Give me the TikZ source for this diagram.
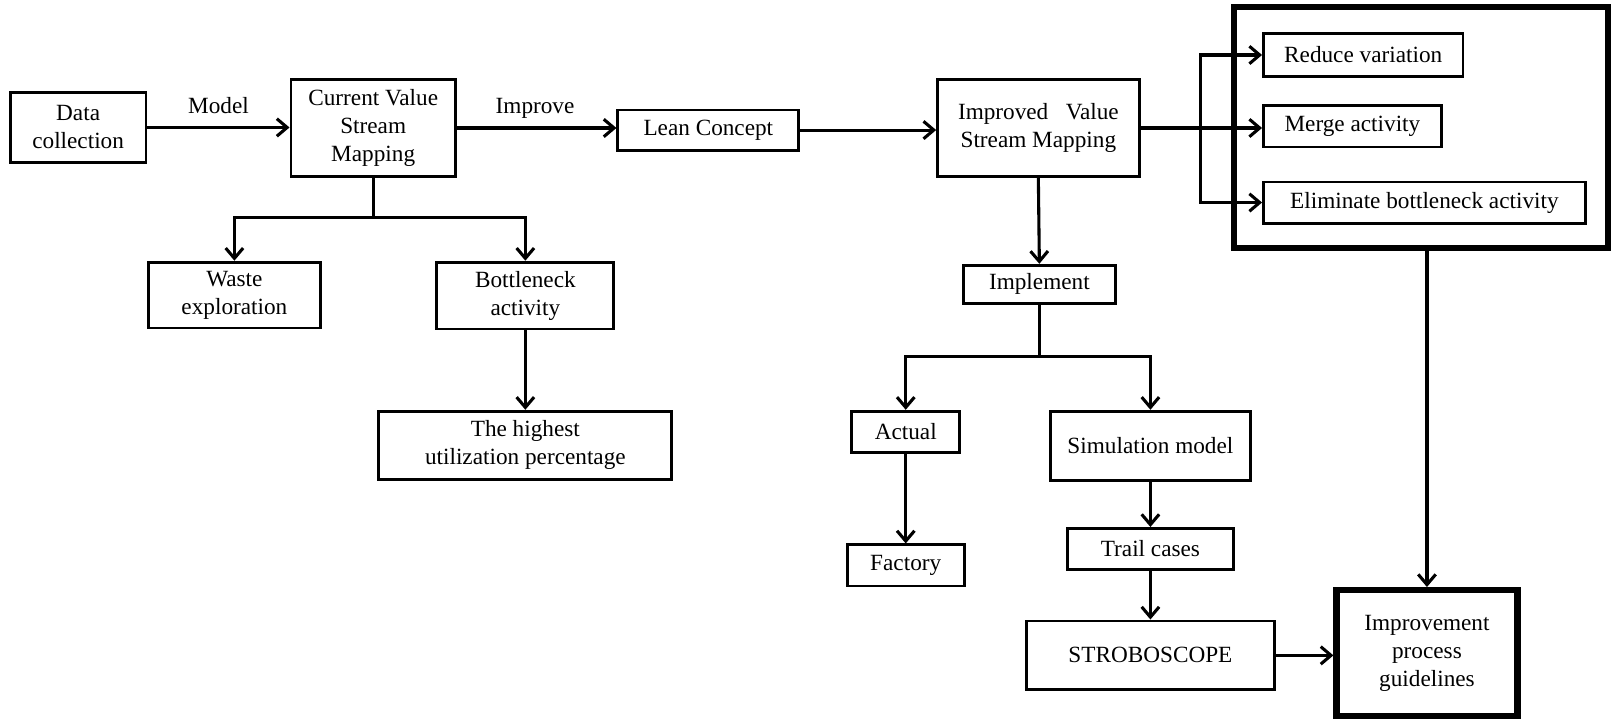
\documentclass[tikz,border=0pt]{standalone}
\usepackage{fontspec}
\setmainfont{Liberation Serif}
\usetikzlibrary{arrows.meta}
\begin{document}
\begin{tikzpicture}[x=0.5pt,y=-0.5pt,
  every node/.style={font=\fontsize{11.3}{13.6}\selectfont, align=center, inner sep=0pt},
  box/.style={draw, line width=1.4pt, rectangle},
  heavybox/.style={draw, line width=3pt, rectangle},
  conn/.style={line width=1.5pt, line cap=rect},
  arr/.style={conn, -{Straight Barb[length=5pt,width=8.5pt,line width=1.5pt]}},
  lbl/.style={anchor=base, yshift=7pt}]
\useasboundingbox (0,0) rectangle (1568,699);

% main flow along the top
\node[box, minimum width=66pt, minimum height=34pt] (data) at (76,124) {Data\\collection};
\node[box, minimum width=80pt, minimum height=47.5pt] (cvsm) at (363,124.5) {Current Value\\Stream\\Mapping};
\node[box, minimum width=88pt, minimum height=19.5pt] (lean) at (689,126.5) {Lean Concept};
\node[box, minimum width=98pt, minimum height=47.5pt] (ivsm) at (1010,124.5) {Improved\hspace{0.75em}Value\\Stream Mapping};

% group of improvement actions
\node[heavybox, minimum width=182pt, minimum height=117pt] (group) at (1382,124) {};
\node[box, minimum width=97pt, minimum height=20.5pt] (reduce) at (1326,53.5) {Reduce variation};
\node[box, minimum width=86.5pt, minimum height=20pt] (merge) at (1315.5,123) {Merge activity};
\node[box, minimum width=156.5pt, minimum height=20pt] (elim) at (1385.5,197) {Eliminate bottleneck activity};
\coordinate (brk) at (1168,0);

% analysis of the current state
\node[box, minimum width=83.5pt, minimum height=32pt] (waste) at (228,287) {Waste\\exploration};
\node[box, minimum width=86pt, minimum height=32.5pt] (bott) at (511,287.5) {Bottleneck\\activity};
\node[box, minimum width=142.5pt, minimum height=33pt] (high) at (511,433) {The highest\\utilization percentage};
\coordinate (j1) at (363,212);

% implementation branch
\node[box, minimum width=74pt, minimum height=18.5pt] (impl) at (1011,276.5) {Implement};
\node[box, minimum width=52.5pt, minimum height=20pt] (actual) at (881,420) {Actual};
\node[box, minimum width=97.5pt, minimum height=33.5pt] (sim) at (1119,433.5) {Simulation model};
\node[box, minimum width=57pt, minimum height=20pt] (factory) at (881,550) {Factory};
\node[box, minimum width=80.5pt, minimum height=20pt] (trail) at (1119,534) {Trail cases};
\node[box, minimum width=120.5pt, minimum height=33.5pt] (strobo) at (1119,637.5) {STROBOSCOPE};
\node[heavybox, minimum width=88pt, minimum height=61.5pt] (guide) at (1388,635.5) {Improvement\\process\\guidelines};
\coordinate (j2) at (1011,347);

% connectors along the top
\draw[arr] (data.east) -- (data.east -| cvsm.west) node[pos=0.5, lbl] {Model};
\draw[arr] (cvsm.east) -- (cvsm.east -| lean.west) node[pos=0.49, lbl] {Improve};
\draw[arr] (lean.east) -- (lean.east -| ivsm.west);
\draw[arr] (ivsm.east) -- (ivsm.east -| merge.west);
\draw[conn] (brk |- reduce.west) -- (brk |- elim.west);
\draw[arr] (brk |- reduce.west) -- (reduce.west);
\draw[arr] (brk |- elim.west) -- (elim.west);

% branches below the current map
\draw[arr] (cvsm.south) -- (cvsm.south |- j1) -| (waste.north);
\draw[arr] (cvsm.south |- j1) -| (bott.north);
\draw[arr] (bott.south) -- (high.north);

% implementation connectors
\draw[arr] (ivsm.south) -- (impl.north);
\draw[arr] (impl.south) -- (impl.south |- j2) -| (actual.north);
\draw[arr] (impl.south |- j2) -| (sim.north);
\draw[arr] (actual.south) -- (factory.north);
\draw[arr] (sim.south) -- (trail.north);
\draw[arr] (trail.south) -- (strobo.north);
\draw[arr] (strobo.east) -- (strobo.east -| guide.west);
\draw[arr] (guide.north |- group.south) -- (guide.north);
\end{tikzpicture}
\end{document}
